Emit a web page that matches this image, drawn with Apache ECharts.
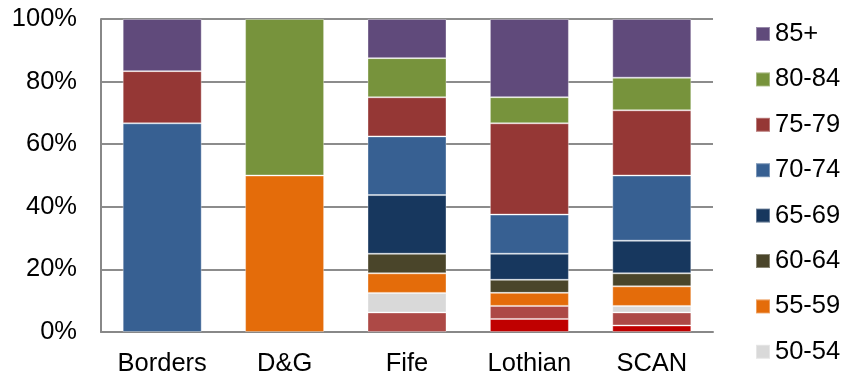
<!DOCTYPE html>
<html>
<head>
<meta charset="utf-8">
<script src="https://cdn.jsdelivr.net/npm/echarts@6/dist/echarts.min.js"></script>
<style>
  html, body { margin: 0; padding: 0; background: #fff; }
  #chart { width: 847px; height: 380px; }
</style>
</head>
<body>
<div id="chart"></div>
<script>
// Share of each age band per region (percent of region total)
const regions = ['Borders', 'D&G', 'Fife', 'Lothian', 'SCAN'];

const ageBands = ['<45', '45-49', '50-54', '55-59', '60-64', '65-69', '70-74', '75-79', '80-84', '85+'];

const under45  = [0, 0, 0, 4.17, 2.08];
const age45_49 = [0, 0, 6.25, 4.17, 4.17];
const age50_54 = [0, 0, 6.25, 0, 2.08];
const age55_59 = [0, 50, 6.25, 4.17, 6.25];
const age60_64 = [0, 0, 6.25, 4.17, 4.17];
const age65_69 = [0, 0, 18.75, 8.33, 10.42];
const age70_74 = [66.67, 0, 18.75, 12.5, 20.83];
const age75_79 = [16.67, 0, 12.5, 29.17, 20.83];
const age80_84 = [0, 50, 12.5, 8.33, 10.42];
const age85plus = [16.67, 0, 12.5, 25, 18.75];

const bandValues = [under45, age45_49, age50_54, age55_59, age60_64,
                    age65_69, age70_74, age75_79, age80_84, age85plus];

const bandColors = ['#C00000', '#AD4946', '#D9D9D9', '#E46C0A', '#4A452A',
                    '#17375E', '#376092', '#953735', '#77933C', '#604A7B'];

// Legend lists the upper bands, oldest first
const legendBands = ['85+', '80-84', '75-79', '70-74', '65-69', '60-64', '55-59', '50-54'];

const font = '"Liberation Sans", Arial, sans-serif';
const fontSize = 25.5;

const series = ageBands.map((name, i) => ({
  name: name,
  type: 'bar',
  stack: 'total',
  barWidth: 79,
  itemStyle: {
    color: bandColors[i],
    borderColor: 'rgba(255,255,255,0.35)',
    borderWidth: 1
  },
  data: bandValues[i].map(v => (v === 0 ? '-' : v))
}));

const chart = echarts.init(document.getElementById('chart'), null, { renderer: 'canvas' });
chart.setOption({
  animation: false,
  backgroundColor: '#ffffff',
  grid: { left: 101, right: 134, top: 19, bottom: 48, containLabel: false },
  legend: {
    data: legendBands,
    orient: 'vertical',
    left: 755,
    top: 21,
    padding: 0,
    icon: 'rect',
    itemWidth: 14,
    itemHeight: 14,
    itemGap: 19.4,
    selectedMode: false,
    textStyle: { fontFamily: font, fontSize: fontSize, color: '#000', lineHeight: 26 }
  },
  xAxis: {
    type: 'category',
    data: regions,
    axisLine: { lineStyle: { color: '#888888', width: 2 } },
    axisTick: { show: false },
    axisLabel: { fontFamily: font, fontSize: fontSize, color: '#000', margin: 19 }
  },
  yAxis: {
    type: 'value',
    min: 0,
    max: 100,
    interval: 20,
    axisLine: { show: true, lineStyle: { color: '#888888', width: 2 } },
    axisTick: { show: false },
    splitLine: { lineStyle: { color: '#8C8C8C', width: 2 } },
    axisLabel: { fontFamily: font, fontSize: fontSize, color: '#000', margin: 24, formatter: '{value}%' }
  },
  series: series
});
</script>
</body>
</html>
